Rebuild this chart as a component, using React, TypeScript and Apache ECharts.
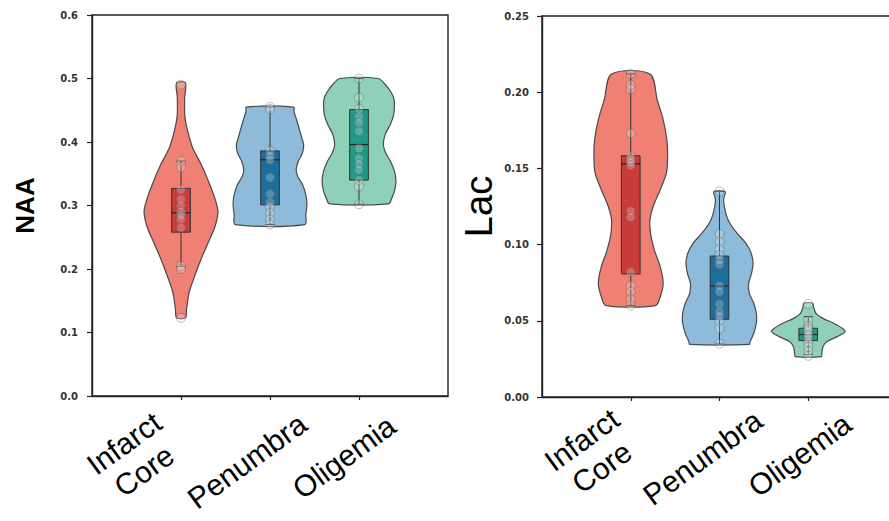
import React, { useEffect, useRef } from "react";
import * as echarts from "echarts";

// ---------- data ----------
const categories = ["Infarct\nCore", "Penumbra", "Oligemia"];
const xSlots = ["", ...categories, ""]; // padded slots so categories sit at 1..3

const naaTicks = [0, 0.1, 0.2, 0.3, 0.4, 0.5, 0.6];
const lacTicks = [0, 0.05, 0.1, 0.15, 0.2, 0.25];

// violin outlines: levels (y values) and relative density (half-width, max = 1)
const naaLevels = [
  [0.493, 0.47, 0.44, 0.415, 0.393, 0.383, 0.362, 0.33, 0.305, 0.289, 0.267, 0.242, 0.215, 0.189, 0.163, 0.136, 0.123],
  [0.455, 0.448, 0.435, 0.4066, 0.396, 0.383, 0.37, 0.357, 0.346, 0.333, 0.317, 0.302, 0.286, 0.27],
  [0.5, 0.4906, 0.48, 0.4696, 0.459, 0.443, 0.428, 0.412, 0.396, 0.383, 0.37, 0.354, 0.338, 0.3225, 0.312, 0.3027],
];
const naaDensity = [
  [0.12, 0.1, 0.105, 0.19, 0.3, 0.38, 0.57, 0.8, 0.95, 1.0, 0.92, 0.74, 0.54, 0.37, 0.22, 0.15, 0.12],
  [0.64, 0.65, 0.72, 0.86, 0.91, 0.88, 0.77, 0.71, 0.75, 0.88, 0.97, 1.0, 0.97, 0.94],
  [0.52, 0.71, 0.85, 0.94, 0.96, 0.94, 0.85, 0.71, 0.66, 0.72, 0.85, 0.96, 1.0, 0.96, 0.89, 0.8],
];
const lacLevels = [
  [0.212, 0.195, 0.182, 0.169, 0.158, 0.147, 0.136, 0.125, 0.116, 0.107, 0.0965, 0.0855, 0.0746, 0.0658, 0.06],
  [0.1348, 0.1293, 0.1205, 0.114, 0.1074, 0.1008, 0.0943, 0.0877, 0.0812, 0.0746, 0.068, 0.0615, 0.0549, 0.0484, 0.0418, 0.0363, 0.0345],
  [0.0615, 0.0593, 0.0549, 0.0516, 0.0484, 0.045, 0.0428, 0.0396, 0.0363, 0.033, 0.0287, 0.0265],
];
const lacDensity = [
  [0.52, 0.72, 0.88, 0.98, 1.0, 0.97, 0.8, 0.61, 0.52, 0.54, 0.64, 0.8, 0.88, 0.8, 0.67],
  [0.15, 0.11, 0.17, 0.28, 0.48, 0.72, 0.86, 0.91, 0.87, 0.79, 0.81, 0.93, 1.0, 1.0, 0.93, 0.83, 0.81],
  [0.12, 0.14, 0.21, 0.4, 0.69, 0.93, 1.0, 0.79, 0.5, 0.4, 0.37, 0.35],
];

// box stats: [whiskerLow, Q1, median, Q3, whiskerHigh]
const naaBoxes = [
  [0.204, 0.258, 0.2885, 0.327, 0.37],
  [0.27, 0.301, 0.372, 0.386, 0.455],
  [0.302, 0.34, 0.396, 0.451, 0.5],
];
const lacBoxes = [
  [0.06, 0.0807, 0.153, 0.1583, 0.212],
  [0.0348, 0.051, 0.0728, 0.0925, 0.1348],
  [0.028, 0.037, 0.041, 0.0451, 0.0527],
];

// individual observations
const naaPoints = [
  [0.49, 0.37, 0.36, 0.325, 0.31, 0.3, 0.29, 0.285, 0.278, 0.265, 0.205, 0.2, 0.123],
  [0.455, 0.452, 0.386, 0.378, 0.372, 0.344, 0.318, 0.305, 0.298, 0.288, 0.278, 0.27],
  [0.5, 0.47, 0.452, 0.44, 0.43, 0.417, 0.39, 0.374, 0.365, 0.356, 0.34, 0.33, 0.302],
];
const lacPoints = [
  [0.212, 0.205, 0.202, 0.173, 0.158, 0.156, 0.154, 0.152, 0.122, 0.118, 0.082, 0.073, 0.069, 0.064, 0.06],
  [0.135, 0.107, 0.102, 0.097, 0.093, 0.09, 0.087, 0.073, 0.069, 0.061, 0.056, 0.053, 0.05, 0.045, 0.035],
  [0.061, 0.05, 0.047, 0.046, 0.045, 0.044, 0.043, 0.041, 0.04, 0.038, 0.036, 0.033, 0.03, 0.027],
];

// ---------- styles / layout ----------
const COLORS = [
  { violin: "#ef8073", box: "#cc3b3b" },
  { violin: "#8ebbda", box: "#1c6e9d" },
  { violin: "#8fd0b9", box: "#1e9a86" },
];
const HALF = 0.415;
const BOX_HALF = 0.105;
const CAP_HALF = 0.05;
const AXIS_COLOR = "#222";
const LABEL_FONT = "Liberation Sans";
const LABEL_ROTATE = 36;
const LABEL_SIZE = 30;
// screen offset of each x label's centre from (tick, axis + margin), per panel
const LABEL_OFFSETS = [
  [[-47, 0], [-23, 4], [-15, 0]],
  [[-39, -4.5], [-17, -0.5], [-8.5, -3]],
];

function padFor(dx: number, dy: number) {
  const t = (LABEL_ROTATE * Math.PI) / 180;
  const c = Math.cos(t), s = Math.sin(t);
  const a = dx * c - dy * s; // along text direction
  const b = dx * s + dy * c; // perpendicular (down in text frame)
  return [Math.max(0, 2 * b), Math.max(0, -2 * a), Math.max(0, -2 * b), Math.max(0, 2 * a)];
}

function panelSeries(g: number, levels: number[][], density: number[][], boxes: number[][], points: number[][]) {
  const violin = {
    type: "custom",
    xAxisIndex: g,
    yAxisIndex: g,
    z: 2,
    encode: { x: 0, y: 1 },
    data: categories.map((_, k) => [k + 1, levels[k][0]]),
    renderItem: (params: any, api: any) => {
      const k = params.dataIndex;
      const xi = api.value(0);
      const band = api.size([1, 0])[0];
      const lv = levels[k];
      const dn = density[k];
      const right = lv.map((v, j) => {
        const p = api.coord([xi, v]);
        return [p[0] + dn[j] * HALF * band, p[1]];
      });
      const left = lv
        .map((v, j) => {
          const p = api.coord([xi, v]);
          return [p[0] - dn[j] * HALF * band, p[1]];
        })
        .reverse();
      return {
        type: "polygon",
        shape: { points: right.concat(left), smooth: 0.3 },
        style: { fill: COLORS[k].violin, stroke: "#4a4a4a", lineWidth: 1.2 },
      };
    },
  };
  const box = {
    type: "custom",
    xAxisIndex: g,
    yAxisIndex: g,
    z: 3,
    encode: { x: 0, y: [1, 2, 3, 4, 5] },
    data: boxes.map((b, k) => [k + 1, ...b]),
    renderItem: (params: any, api: any) => {
      const k = params.dataIndex;
      const xi = api.value(0);
      const band = api.size([1, 0])[0];
      const wlo = api.value(1), q1 = api.value(2), med = api.value(3), q3 = api.value(4), whi = api.value(5);
      const cx = api.coord([xi, med])[0];
      const y = (v: number) => api.coord([xi, v])[1];
      const bw = BOX_HALF * band;
      const cw = CAP_HALF * band;
      const ln = { stroke: "#333", lineWidth: 1 };
      return {
        type: "group",
        children: [
          { type: "line", shape: { x1: cx, y1: y(whi), x2: cx, y2: y(wlo) }, style: ln },
          { type: "line", shape: { x1: cx - cw, y1: y(whi), x2: cx + cw, y2: y(whi) }, style: ln },
          { type: "line", shape: { x1: cx - cw, y1: y(wlo), x2: cx + cw, y2: y(wlo) }, style: ln },
          {
            type: "rect",
            shape: { x: cx - bw, y: y(q3), width: 2 * bw, height: y(q1) - y(q3) },
            style: { fill: COLORS[k].box, stroke: "#333", lineWidth: 1 },
          },
          { type: "line", shape: { x1: cx - bw, y1: y(med), x2: cx + bw, y2: y(med) }, style: { stroke: "#222", lineWidth: 1.2 } },
        ],
      };
    },
  };
  const scatter = {
    type: "scatter",
    xAxisIndex: g,
    yAxisIndex: g,
    z: 4,
    symbol: "circle",
    symbolSize: 9,
    itemStyle: { color: "rgba(255,255,255,0.28)", borderColor: "rgba(90,90,90,0.5)", borderWidth: 1 },
    data: points.flatMap((arr, k) => arr.map((v) => [k + 1, v])),
  };
  return [violin, box, scatter];
}

function xAxis(g: number) {
  const tokenBase = { fontSize: LABEL_SIZE, fontFamily: LABEL_FONT, color: "#000", lineHeight: 34 };
  const rich: any = {};
  LABEL_OFFSETS[g].forEach((o, k) => {
    rich["c" + k] = { ...tokenBase, padding: padFor(o[0], o[1]) };
  });
  return {
    type: "category",
    gridIndex: g,
    data: xSlots,
    boundaryGap: false,
    axisLine: { lineStyle: { color: AXIS_COLOR, width: 1.4 } },
    axisTick: { interval: (i: number) => i > 0 && i < xSlots.length - 1, length: 4, lineStyle: { color: AXIS_COLOR, width: 1.2 } },
    axisLabel: {
      interval: 0,
      rotate: LABEL_ROTATE,
      margin: 61,
      align: "center",
      verticalAlign: "middle",
      fontSize: LABEL_SIZE,
      fontFamily: LABEL_FONT,
      color: "#000",
      formatter: (val: string, idx: number) =>
        val ? val.split("\n").map((s) => `{c${idx - 1}|${s}}`).join("\n") : "",
      rich,
    },
    splitLine: { show: false },
  };
}

function yAxis(g: number, ticks: number[], digits: number, name: string, nameGap: number, nameStyle: any, margin: number) {
  return {
    type: "value",
    gridIndex: g,
    min: ticks[0],
    max: ticks[ticks.length - 1],
    interval: ticks[1] - ticks[0],
    axisLine: { show: true, lineStyle: { color: AXIS_COLOR, width: 1.4 } },
    axisTick: { show: true, length: 5, lineStyle: { color: AXIS_COLOR, width: 1.2 } },
    axisLabel: {
      formatter: (v: number) => v.toFixed(digits),
      fontSize: 10,
      fontWeight: "bold",
      fontFamily: "DejaVu Sans",
      color: "#333",
      margin,
    },
    splitLine: { show: false },
    name,
    nameLocation: "middle",
    nameRotate: 90,
    nameGap,
    nameTextStyle: nameStyle,
  };
}

export default function App() {
  const ref = useRef<HTMLDivElement>(null);
  useEffect(() => {
    if (!ref.current) return;
    const chart = echarts.init(ref.current, undefined, { renderer: "svg" });
    chart.setOption({
      animation: false,
      backgroundColor: "#ffffff",
      grid: [
        { left: 92, top: 15, width: 356, height: 381, outerBoundsMode: "none", containLabel: false, show: true, borderColor: AXIS_COLOR, borderWidth: 1.4, backgroundColor: "transparent" },
        { left: 542, top: 16, width: 355, height: 381, outerBoundsMode: "none", containLabel: false, show: true, borderColor: AXIS_COLOR, borderWidth: 1.4, backgroundColor: "transparent" },
      ],
      xAxis: [xAxis(0), xAxis(1)],
      yAxis: [
        yAxis(0, naaTicks, 1, "NAA", 54, { fontSize: 26, fontWeight: "bold", fontFamily: LABEL_FONT, color: "#000" }, 14),
        yAxis(1, lacTicks, 2, "Lac", 44, { fontSize: 38, fontFamily: LABEL_FONT, color: "#000" }, 13),
      ],
      series: [
        ...panelSeries(0, naaLevels, naaDensity, naaBoxes, naaPoints),
        ...panelSeries(1, lacLevels, lacDensity, lacBoxes, lacPoints),
      ],
    });
    return () => chart.dispose();
  }, []);
  return <div ref={ref} style={{ position: "fixed", left: 0, top: 0, width: 889, height: 521 }} />;
}
